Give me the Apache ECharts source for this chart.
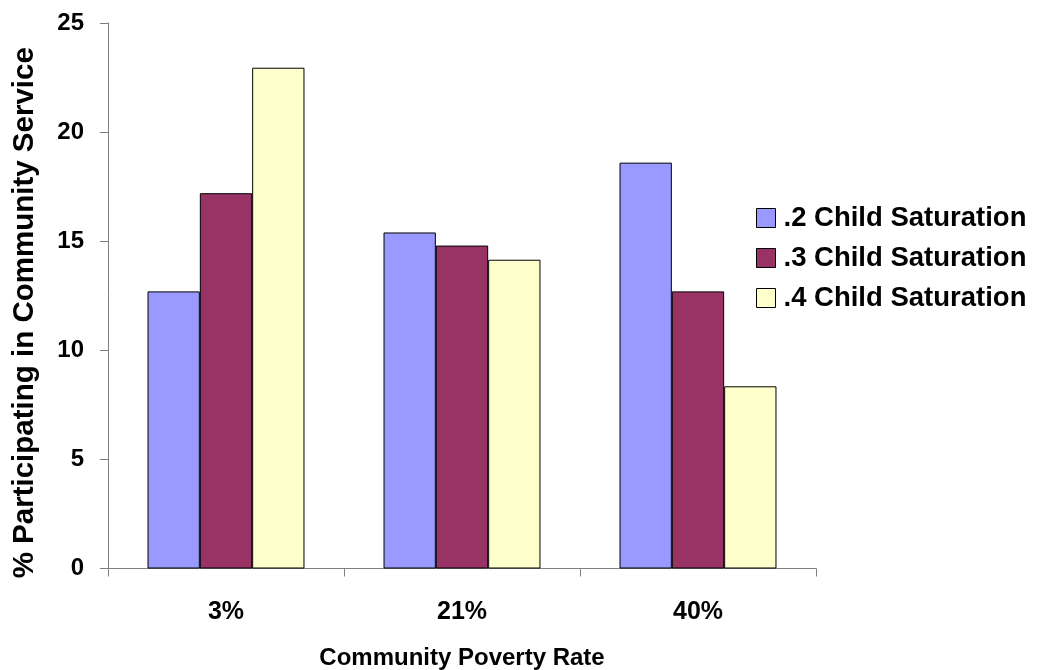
<!DOCTYPE html>
<html>
<head>
<meta charset="utf-8">
<style>
  html, body { margin: 0; padding: 0; background: #fff; }
  #chart { width: 1037px; height: 670px; }
</style>
<script src="https://cdn.jsdelivr.net/npm/echarts@6/dist/echarts.min.js"></script>
</head>
<body>
<div id="chart"></div>
<script>
// Poverty-rate categories and participation by child saturation level
const categories = ['3%', '21%', '40%'];
const seriesNames = ['.2 Child Saturation', '.3 Child Saturation', '.4 Child Saturation'];
const sat02 = [12.7, 15.4, 18.6];
const sat03 = [17.2, 14.8, 12.7];
const sat04 = [22.95, 14.15, 8.35];
const yTicks = [0, 5, 10, 15, 20, 25];

const colors = ['#9999FF', '#993366', '#FFFFCC'];
const font = 'Liberation Sans, Arial, sans-serif';

const chart = echarts.init(document.getElementById('chart'), null, { renderer: 'canvas' });

const values = [sat02, sat03, sat04];
const series = seriesNames.map((name, i) => ({
  name: name,
  type: 'bar',
  data: values[i],
  barGap: '0%',
  barCategoryGap: '33.5%',
  itemStyle: { color: colors[i], borderColor: '#000', borderWidth: 1 },
  emphasis: { disabled: true }
}));

chart.setOption({
  animation: false,
  backgroundColor: '#fff',
  grid: { left: 108, right: 221, top: 23, bottom: 101.5, containLabel: false, outerBoundsMode: 'none' },
  legend: {
    orient: 'vertical',
    left: 751,
    top: 199,
    padding: 5,
    itemWidth: 19,
    itemHeight: 19,
    itemGap: 12,
    icon: 'rect',
    textStyle: { fontFamily: font, fontWeight: 'bold', fontSize: 27.5, color: '#000', lineHeight: 27, padding: [0, 0, 0, 3] },
    itemStyle: { borderColor: '#000', borderWidth: 1 },
    data: seriesNames
  },
  xAxis: {
    type: 'category',
    data: categories,
    name: 'Community Poverty Rate',
    nameLocation: 'middle',
    nameGap: 78,
    nameTextStyle: { fontFamily: font, fontWeight: 'bold', fontSize: 24, color: '#000' },
    axisLine: { lineStyle: { color: '#808080', width: 1 } },
    axisTick: { show: true, length: 8, inside: false, alignWithLabel: false, lineStyle: { color: '#808080' } },
    axisLabel: { fontFamily: font, fontWeight: 'bold', fontSize: 25, color: '#000', margin: 31 },
    splitLine: { show: false }
  },
  yAxis: {
    type: 'value',
    min: yTicks[0],
    max: yTicks[yTicks.length - 1],
    interval: 5,
    name: '% Participating in Community Service',
    nameLocation: 'middle',
    nameGap: 68,
    nameTextStyle: { fontFamily: font, fontWeight: 'bold', fontSize: 29.5, color: '#000', padding: [0, 34, 0, 0] },
    axisLine: { show: true, lineStyle: { color: '#808080', width: 1 } },
    axisTick: { show: true, length: 8, lineStyle: { color: '#808080' } },
    axisLabel: { fontFamily: font, fontWeight: 'bold', fontSize: 24, color: '#000', margin: 24 },
    splitLine: { show: false }
  },
  series: series
});
</script>
</body>
</html>
